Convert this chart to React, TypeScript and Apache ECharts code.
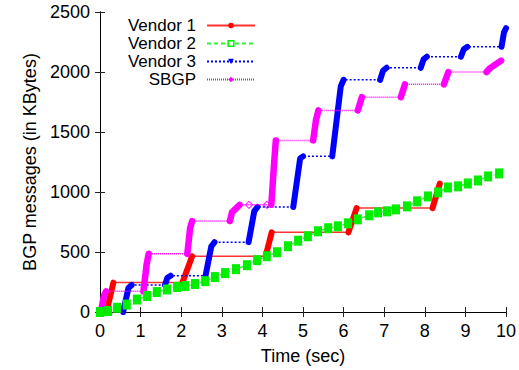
import React, { useEffect, useRef } from 'react';
import * as echarts from 'echarts';

// ---- Data (time in sec, value in KBytes) ----
// Each ramp is a burst of updates; flats are simple connecting lines between bursts.
const vendor1Ramps: number[][][] = [
  [[0.16, 0], [0.33, 245]],
  [[2.03, 245], [2.27, 465]],
  [[4.08, 465], [4.23, 664]],
  [[6.12, 664], [6.32, 866]],
  [[8.19, 866], [8.37, 1070]],
];

const vendor2Times = [0, 0.2, 0.42, 0.66, 0.91, 1.16, 1.4, 1.65, 1.9, 2.1, 2.34, 2.59, 2.83, 3.08, 3.35, 3.62, 3.87, 4.11, 4.36, 4.63, 4.88, 5.12, 5.37, 5.62, 5.86, 6.11, 6.35, 6.63, 6.85, 7.07, 7.29, 7.56, 7.81, 8.08, 8.33, 8.57, 8.82, 9.06, 9.31, 9.56, 9.83];
const vendor2Values = [0, 8, 35, 62, 104, 133, 166, 188, 208, 216, 233, 257, 291, 324, 357, 390, 432, 465, 498, 548, 594, 631, 673, 698, 714, 739, 772, 806, 830, 839, 855, 880, 922, 963, 997, 1038, 1047, 1071, 1096, 1130, 1155];

const vendor3Ramps: number[][][] = [
  [[0.57, 0], [0.70, 200], [0.78, 225]],
  [[1.6, 225], [1.66, 285], [1.74, 302]],
  [[2.6, 302], [2.74, 545], [2.82, 582]],
  [[3.66, 582], [3.80, 840], [3.88, 875]],
  [[4.76, 875], [4.93, 1280], [5.0, 1297]],
  [[5.72, 1297], [5.93, 1880], [6.0, 1935]],
  [[6.9, 1935], [6.97, 2010], [7.06, 2035]],
  [[7.9, 2035], [7.97, 2105], [8.05, 2127]],
  [[8.89, 2127], [8.96, 2190], [9.05, 2210]],
  [[9.89, 2210], [9.95, 2330], [10.0, 2365]],
];

const sbgpRamps: number[][][] = [
  [[0.02, 0], [0.1, 140], [0.15, 172]],
  [[1.07, 172], [1.15, 400], [1.2, 485]],
  [[2.15, 485], [2.22, 700], [2.27, 758]],
  [[3.2, 758], [3.25, 830], [3.44, 893]],
  [[4.22, 893], [4.28, 1200], [4.33, 1430]],
  [[5.25, 1430], [5.32, 1600], [5.38, 1680]],
  [[6.35, 1680], [6.45, 1790]],
  [[7.41, 1790], [7.51, 1897]],
  [[8.47, 1897], [8.58, 2000]],
  [[9.52, 2000], [9.6, 2030], [9.88, 2095]],
];
const sbgpIsolated: number[][] = [[3.67, 893], [4.11, 893]];

const xTickValues = { min: 0, max: 10, interval: 1 };
const yTickValues = { min: 0, max: 2500, interval: 500 };

const seriesNames = ['Vendor 1', 'Vendor 2', 'Vendor 3', 'SBGP'];

// ---- helpers ----
const joinRamps = (ramps: number[][][]) => ramps.reduce((acc: number[][], r) => acc.concat(r), []);
const breakRamps = (ramps: number[][][]) => {
  const out: any[] = [];
  ramps.forEach((r, i) => {
    if (i > 0) out.push([r[0][0], null]);
    r.forEach((p) => out.push(p));
  });
  return out;
};

const FONT = '"Liberation Sans", Arial, Helvetica, sans-serif';
const FS = 18;
const LEGEND_FS = 17;
const RED = '#ff0000';
const GREEN = '#00ee00';
const BLUE = '#0000ff';
const MAGENTA = '#ff00ff';

export default function App() {
  const ref = useRef<HTMLDivElement>(null);
  useEffect(() => {
    if (!ref.current) return;
    const chart = echarts.init(ref.current, undefined, { renderer: 'svg' });
    const axisCommon = {
      type: 'value' as const,
      splitLine: { show: false },
      axisLine: { show: true, lineStyle: { color: '#000', width: 1 } },
      axisTick: { show: true, inside: true, length: 5, lineStyle: { color: '#222', width: 1 } },
    };
    const legendRow = (name: string, top: number, extra: any = {}) => ({
      data: [{ name, ...extra }],
      right: 263,
      top,
      orient: 'vertical',
      align: 'right',
      itemWidth: 48,
      itemHeight: 7,
      padding: 0,
      selectedMode: false,
      textStyle: { fontSize: LEGEND_FS, fontFamily: FONT, color: '#000', lineHeight: 17, padding: [0, 6, 0, 0] },
    });
    const greenData = vendor2Times.map((t, i) => [t, vendor2Values[i]]);
    const plain = (v: number) => String(v);
    chart.setOption({
      animation: false,
      backgroundColor: '#fff',
      grid: { left: 100, right: 13, top: 12, bottom: 57, show: false },
      legend: [
        legendRow(seriesNames[0], 17),
        legendRow(seriesNames[1], 35, { itemStyle: { color: '#fff', borderColor: GREEN, borderWidth: 1.5 } }),
        legendRow(seriesNames[2], 53),
        legendRow(seriesNames[3], 71),
      ],
      xAxis: [
        {
          ...axisCommon,
          ...xTickValues,
          position: 'bottom',
          name: 'Time (sec)',
          nameLocation: 'middle',
          nameGap: 35,
          nameTextStyle: { fontSize: FS, fontFamily: FONT, color: '#000' },
          axisLabel: { fontSize: FS, fontFamily: FONT, color: '#000', margin: 10, formatter: plain },
        },
        {
          ...axisCommon,
          ...xTickValues,
          position: 'top',
          axisLabel: { show: false },
        },
      ],
      yAxis: [
        {
          ...axisCommon,
          ...yTickValues,
          position: 'left',
          name: 'BGP messages (in KBytes)',
          nameLocation: 'middle',
          nameGap: 61,
          nameTextStyle: { fontSize: FS, fontFamily: FONT, color: '#000' },
          axisLabel: { fontSize: FS, fontFamily: FONT, color: '#000', margin: 10, formatter: plain },
        },
        {
          ...axisCommon,
          ...yTickValues,
          position: 'right',
          axisLabel: { show: false },
        },
      ],
      series: [
        {
          name: seriesNames[0],
          type: 'line',
          data: joinRamps(vendor1Ramps),
          showSymbol: false,
          symbol: 'circle',
          itemStyle: { color: RED },
          lineStyle: { color: RED, width: 1.5, type: 'solid', opacity: 0.8 },
        },
        {
          name: 'v1-bursts',
          type: 'line',
          data: breakRamps(vendor1Ramps),
          showSymbol: false,
          connectNulls: false,
          itemStyle: { color: RED },
          lineStyle: { color: RED, width: 6, cap: 'round', join: 'round' },
        },
        {
          name: seriesNames[1],
          type: 'line',
          data: greenData,
          symbol: 'rect',
          symbolSize: [8, 10],
          showSymbol: true,
          itemStyle: { color: GREEN },
          lineStyle: { color: GREEN, width: 1.5, type: [4, 3], opacity: 0.8 },
        },
        {
          name: seriesNames[2],
          type: 'line',
          data: joinRamps(vendor3Ramps),
          showSymbol: false,
          symbol: 'triangle',
          symbolRotate: 180,
          itemStyle: { color: BLUE },
          lineStyle: { color: BLUE, width: 1.5, type: [2, 2] },
        },
        {
          name: 'v3-bursts',
          type: 'line',
          data: breakRamps(vendor3Ramps),
          showSymbol: false,
          connectNulls: false,
          itemStyle: { color: BLUE },
          lineStyle: { color: BLUE, width: 6, cap: 'round', join: 'round' },
        },
        {
          name: seriesNames[3],
          type: 'line',
          data: joinRamps(sbgpRamps),
          showSymbol: false,
          symbol: 'diamond',
          itemStyle: { color: MAGENTA },
          lineStyle: { color: MAGENTA, width: 1.5, type: [1, 1] },
        },
        {
          name: 'sbgp-bursts',
          type: 'line',
          data: breakRamps(sbgpRamps),
          showSymbol: false,
          connectNulls: false,
          itemStyle: { color: MAGENTA },
          lineStyle: { color: MAGENTA, width: 6.5, cap: 'round', join: 'round' },
        },
        {
          name: 'sbgp-points',
          type: 'scatter',
          data: sbgpIsolated,
          symbol: 'diamond',
          symbolSize: 7,
          itemStyle: { color: '#fff', borderColor: MAGENTA, borderWidth: 1.2 },
        },
      ],
    });
    return () => chart.dispose();
  }, []);
  return (
    <div
      ref={ref}
      style={{ position: 'absolute', left: 0, top: 0, width: 519, height: 370, background: '#fff' }}
    />
  );
}
